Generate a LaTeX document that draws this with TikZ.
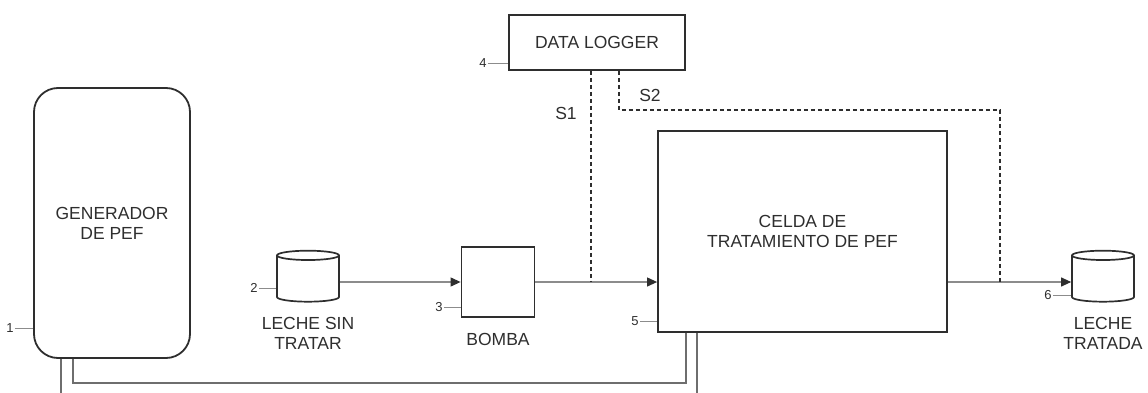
\documentclass[tikz,border=0pt]{standalone}
\usepackage{fontspec}
\setmainfont{Liberation Sans}
\usetikzlibrary{arrows.meta,shapes.geometric,positioning,calc}
\definecolor{tinta}{HTML}{2E2E2E}
\definecolor{flujogris}{HTML}{8C8C8C}
\definecolor{cablegris}{HTML}{6E6E6E}
\tikzset{
  caja/.style={rectangle, draw=tinta, line width=1.8pt, align=center, text=tinta,
    font=\fontsize{17.5}{20}\selectfont},
  equipo/.style={caja, rounded corners=24pt, minimum width=156pt, minimum height=270pt},
  tanque/.style={cylinder, shape border rotate=90, aspect=1.4, draw=tinta, line width=1.7pt,
    minimum width=62pt, minimum height=51pt},
  rotulo/.style={text=tinta, align=center, inner sep=1pt, font=\fontsize{17.5}{20}\selectfont},
  numero/.style={text=tinta, inner sep=1pt, font=\fontsize{13}{14}\selectfont},
  marca/.style={draw=flujogris, line width=0.9pt},
  flujo/.style={-{Triangle[length=10pt,width=9pt,color=tinta]}, draw=flujogris, line width=1.1pt},
  senal/.style={draw=tinta, dash pattern=on 4pt off 3pt, line width=1.2pt},
  cable/.style={draw=cablegris, line width=1.6pt},
}

\begin{document}
\begin{tikzpicture}[x=1pt, y=-1pt, node distance=14pt]
    \useasboundingbox (0,0) rectangle (1148,393);
    % equipos
    \node[equipo] (gen) at (112,223) {GENERADOR\\DE PEF};
    \node[tanque] (t1) at (308,280) {};
    \node[caja, minimum width=73pt, minimum height=70pt] (bomba) at (498,282) {};
    \node[caja, minimum width=176pt, minimum height=55pt] (logger) at (597,42.5) {DATA LOGGER};
    \node[caja, minimum width=289pt, minimum height=201pt] (celda) at (802.5,231.5) {CELDA DE\\TRATAMIENTO DE PEF};
    \node[tanque] (t2) at (1103,280) {};
    % rotulos
    \node[rotulo, below=of t1] (lt1) {LECHE SIN\\TRATAR};
    \node[rotulo, below=of bomba] (lbomba) {BOMBA};
    \node[rotulo, below=of t2] (lt2) {LECHE\\TRATADA};
    \node[rotulo] (ls1) at (566,113) {S1};
    \node[rotulo] (ls2) at (650,95) {S2};
    % numeros
    \node[numero] (n1) at (10,328) {1};
    \node[numero] (n2) at (254,288) {2};
    \node[numero] (n3) at (439,307) {3};
    \node[numero] (n4) at (483,63) {4};
    \node[numero] (n5) at (635,321) {5};
    \node[numero] (n6) at (1048,295) {6};
    \draw[marca] (n1) -- (gen.west |- n1);
    \draw[marca] (n2) -- (t1.west |- n2);
    \draw[marca] (n3) -- (bomba.west |- n3);
    \draw[marca] (n4) -- (logger.west |- n4);
    \draw[marca] (n5) -- (celda.west |- n5);
    \draw[marca] (n6) -- (t2.west |- n6);
    % leche
    \coordinate (j1) at (591,282);
    \coordinate (j2) at (1000,282);
    \draw[flujo] (t1.east |- bomba.west) -- (bomba.west);
    \draw[flujo] (bomba.east) -- (bomba.east -| celda.west);
    \draw[flujo] (celda.east |- bomba) -- (t2.west |- bomba);
    % sensores
    \coordinate (s2a) at (619,110);
    \coordinate (s2b) at (1000,110);
    \draw[senal] (logger.south -| j1) -- (j1);
    \draw[senal] (logger.south -| s2a) -- (s2a) -- (s2b) -- (j2);
    % cables
    \coordinate (c1) at (61,393);
    \coordinate (c2) at (73,383);
    \coordinate (c3) at (686,383);
    \coordinate (c4) at (697,393);
    \draw[cable] (gen.south -| c1) -- (c1);
    \draw[cable] (gen.south -| c2) -- (c2) -- (c3) -- (celda.south -| c3);
    \draw[cable] (celda.south -| c4) -- (c4);
\end{tikzpicture}
\end{document}
